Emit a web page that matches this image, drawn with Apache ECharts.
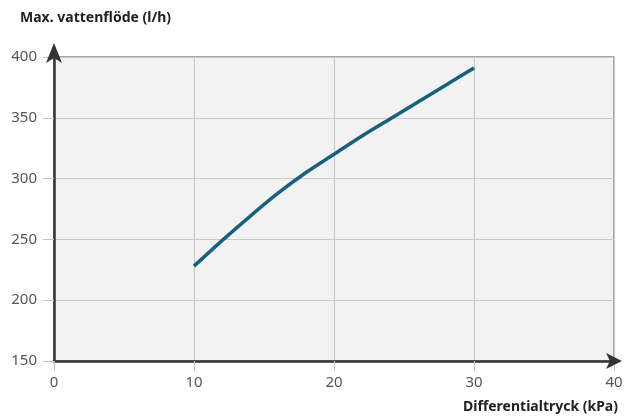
<!DOCTYPE html>
<html><head><meta charset="utf-8">
<script src="https://cdn.jsdelivr.net/npm/echarts@6/dist/echarts.min.js"></script>
<style>html,body{margin:0;padding:0;background:#fff}#c{width:630px;height:416px}</style>
</head><body><div id="c"></div>
<script>
var xValues = [10, 12, 14, 16, 18, 20, 22, 24, 26, 28, 30];
var yValues = [228, 249, 269, 288, 305, 320, 335, 349, 363, 377, 391];
var xName = 'Differentialtryck (kPa)';
var yName = 'Max. vattenflöde (l/h)';
var FONT = 'Noto Sans';
var chart = echarts.init(document.getElementById('c'));
var pts = xValues.map(function(x, i){ return [x, yValues[i]]; });
chart.setOption({
  animation: false,
  grid: {left: 54, right: 16, top: 57, bottom: 55, containLabel: false, outerBoundsMode: 'none', show: true, backgroundColor: '#f2f2f2', borderColor: '#8a8a8a', borderWidth: 1.5},
  xAxis: {
    type: 'value', min: 0, max: 40, interval: 10,
    name: xName, nameLocation: 'end', nameGap: 4,
    nameTextStyle: {fontFamily: FONT, fontWeight: 'bold', fontSize: 14, color: '#222', align: 'right', verticalAlign: 'top', padding: [39, 0, 0, 0]},
    axisLine: {show: true, onZero: false, lineStyle: {color: '#333', width: 2.5}, symbol: ['none', 'arrow'], symbolSize: [12, 16], symbolOffset: [0, 8]},
    axisTick: {show: true, length: 10, lineStyle: {color: '#c4c4c4', width: 1}},
    axisLabel: {margin: 14, fontFamily: FONT, fontSize: 15, color: '#555'},
    splitLine: {show: true, lineStyle: {color: '#cacaca', width: 1.2}}
  },
  yAxis: {
    type: 'value', min: 150, max: 400, interval: 50,
    name: yName, nameLocation: 'end', nameGap: 39,
    nameTextStyle: {fontFamily: FONT, fontWeight: 'bold', fontSize: 14, color: '#222', align: 'left', verticalAlign: 'middle', padding: [0, 0, 0, -34]},
    axisLine: {show: true, onZero: false, lineStyle: {color: '#333', width: 2.5}, symbol: ['none', 'arrow'], symbolSize: [12, 20], symbolOffset: [0, 14]},
    axisTick: {show: true, length: 11, lineStyle: {color: '#c4c4c4', width: 1}},
    axisLabel: {margin: 17, fontFamily: FONT, fontSize: 15, color: '#555'},
    splitLine: {show: true, lineStyle: {color: '#cacaca', width: 1.2}}
  },
  series: [{
    type: 'line', data: pts, smooth: 0.3, showSymbol: false,
    lineStyle: {color: '#17607f', width: 3.5}
  }]
});
</script></body></html>
